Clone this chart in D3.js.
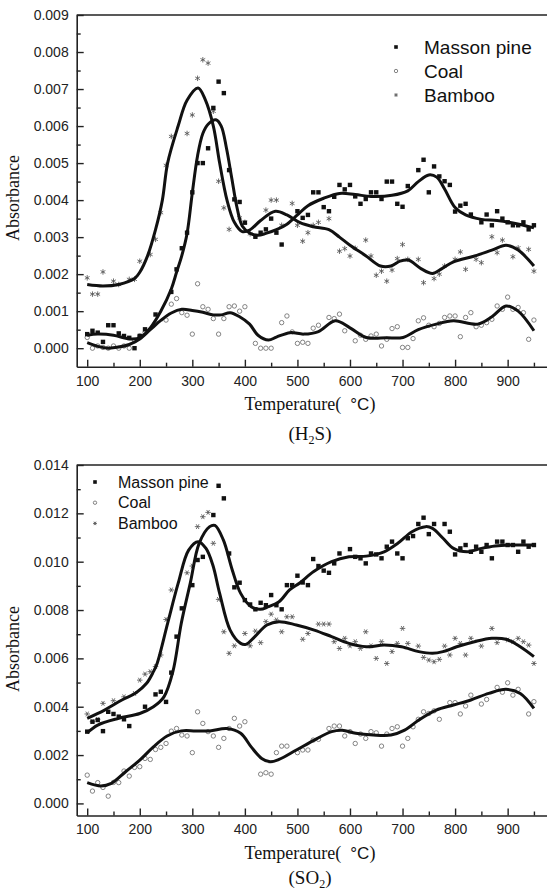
<html>
<head>
<meta charset="utf-8">
<title>Absorbance</title>
<style>
  body { margin: 0; background: #fff; }
  .tick text { font-family: "Liberation Sans", Arial, sans-serif; font-size: 14px; fill: #222; }
  .domain { stroke: #222; stroke-width: 1.6; }
  .tick line { stroke: #222; stroke-width: 1.4; }
</style>
<script src="https://cdn.jsdelivr.net/npm/d3@7/dist/d3.min.js"></script>
</head>
<body>
<script>
// values are absorbance x 10^-3
var seriesNames = ["Masson pine", "Coal", "Bamboo"];
var xTicks = [100, 200, 300, 400, 500, 600, 700, 800, 900];
var h2sTicks = [0, 1, 2, 3, 4, 5, 6, 7, 8, 9];
var so2Ticks = [0, 2, 4, 6, 8, 10, 12, 14];

// H2S measured points [T, A]
var h2sPine = [[100,0.38],[110,0.47],[120,0.42],[130,0.17],[140,0.62],[150,0.62],[160,0.40],[170,0.33],[180,0.28],[190,0.0],[200,0.33],[210,0.51],[230,0.91],[260,1.52],[270,2.13],[280,2.70],[290,3.12],[300,4.21],[310,5.0],[320,5.0],[330,5.40],[340,6.49],[350,7.20],[360,6.89],[370,4.81],[380,4.02],[390,3.95],[400,3.39],[420,3.01],[430,3.12],[440,3.21],[450,3.5],[460,3.12],[470,2.8],[500,3.7],[510,3.52],[520,3.6],[530,4.21],[540,4.21],[550,3.81],[560,3.7],[570,4.09],[580,4.41],[590,4.29],[600,4.41],[610,4.1],[620,3.9],[630,4.03],[640,4.21],[650,4.21],[660,4.03],[670,4.5],[680,4.5],[690,3.9],[700,3.82],[710,4.38],[730,4.81],[740,5.09],[750,4.21],[760,4.91],[770,4.64],[780,4.51],[790,4.41],[800,3.69],[810,3.85],[820,3.9],[830,3.61],[850,3.4],[860,3.61],[870,3.32],[880,3.7],[890,3.5],[900,3.4],[910,3.32],[920,3.32],[930,3.4],[940,3.21],[950,3.32]];
var h2sCoal = [[100,0.29],[110,0.0],[120,0.06],[130,0.02],[140,0.0],[150,0.06],[160,0.0],[170,0.06],[180,0.0],[190,0.2],[200,0.33],[210,0.42],[230,0.69],[250,0.76],[260,1.19],[270,1.34],[280,0.96],[290,0.89],[300,0.38],[310,1.74],[320,1.12],[330,1.05],[340,0.8],[350,0.38],[360,0.8],[370,1.12],[380,1.14],[390,1.0],[400,1.12],[420,0.13],[430,0.0],[440,0.0],[450,0.0],[470,0.69],[480,0.87],[490,0.44],[500,0.13],[510,0.16],[520,0.13],[530,0.54],[540,0.62],[560,0.83],[570,0.8],[580,0.92],[590,0.47],[610,0.2],[620,0.35],[630,0.24],[640,0.33],[650,0.38],[660,0.06],[670,0.24],[680,0.53],[690,0.58],[700,0.02],[710,0.02],[720,0.26],[730,0.74],[740,0.82],[750,0.62],[760,0.58],[770,0.67],[780,0.83],[790,0.87],[800,0.87],[810,0.31],[820,0.83],[830,0.96],[840,0.58],[850,0.62],[860,0.69],[870,0.78],[880,1.14],[890,1.05],[900,1.38],[910,1.05],[920,1.1],[930,0.96],[940,0.24],[950,0.76]];
var h2sBamboo = [[100,1.9],[110,1.46],[120,1.46],[130,2.06],[150,1.81],[160,1.72],[180,1.86],[190,1.86],[200,2.35],[220,2.53],[230,2.94],[240,3.66],[250,4.94],[260,5.72],[290,5.80],[300,6.30],[310,7.29],[320,7.79],[330,7.70],[340,6.40],[350,4.51],[360,3.79],[370,3.21],[390,3.52],[400,3.4],[410,3.09],[440,3.73],[450,4.0],[460,4.0],[470,3.32],[490,3.91],[500,3.32],[510,2.89],[520,3.12],[530,3.32],[540,3.4],[560,3.5],[580,2.62],[590,2.69],[600,2.49],[610,2.7],[630,2.92],[640,2.49],[650,1.97],[660,2.08],[670,1.81],[680,2.11],[690,2.42],[700,2.8],[710,2.4],[730,2.4],[740,1.77],[760,1.88],[770,2.0],[780,2.22],[800,2.4],[810,2.6],[820,2.13],[840,2.4],[850,2.31],[870,3.01],[880,2.58],[890,2.92],[910,2.47],[920,2.71],[940,2.67],[950,2.08]];

// H2S smoothed curves
var h2sPineFit = [[100,0.35],[120,0.38],[150,0.35],[180,0.25],[200,0.28],[220,0.55],[240,1.0],[260,1.6],[270,2.05],[280,2.5],[290,3.1],[300,4.2],[310,5.2],[320,5.8],[330,6.05],[345,6.17],[355,6.0],[365,5.4],[375,4.6],[385,3.8],[395,3.3],[410,3.1],[425,3.05],[440,3.1],[460,3.2],[480,3.35],[500,3.6],[520,3.85],[550,4.05],[580,4.18],[610,4.15],[640,4.1],[680,4.13],[710,4.25],[730,4.5],[750,4.68],[765,4.62],[780,4.3],[800,3.8],[820,3.6],[850,3.48],[880,3.45],[910,3.38],[950,3.25]];
var h2sCoalFit = [[100,0.15],[120,0.05],[140,0.0],[160,0.03],[180,0.1],[200,0.25],[220,0.5],[240,0.75],[260,0.95],[280,1.05],[300,1.02],[320,0.97],[340,0.9],[355,0.9],[372,0.96],[390,0.85],[409,0.65],[425,0.35],[445,0.22],[460,0.3],[486,0.42],[512,0.38],[540,0.45],[572,0.74],[600,0.55],[631,0.29],[670,0.28],[701,0.29],[730,0.5],[764,0.65],[797,0.74],[843,0.65],[870,0.85],[897,1.14],[920,1.0],[950,0.47]];
var h2sBambooFit = [[100,1.72],[130,1.68],[160,1.72],[190,1.88],[200,2.05],[215,2.5],[230,3.2],[243,4.0],[253,5.0],[273,6.0],[290,6.7],[311,7.03],[325,6.7],[340,6.0],[352,5.0],[366,4.0],[380,3.4],[395,3.15],[410,3.2],[430,3.45],[458,3.7],[480,3.6],[505,3.39],[530,3.28],[560,3.2],[580,3.0],[600,2.78],[630,2.5],[658,2.22],[678,2.22],[695,2.35],[711,2.38],[735,2.15],[757,2.02],[775,2.15],[797,2.33],[837,2.49],[870,2.65],[897,2.78],[920,2.65],[950,2.22]];

// SO2 measured points
var so2Pine = [[100,2.97],[110,3.38],[120,3.45],[130,2.99],[140,3.79],[150,3.7],[160,3.59],[170,3.48],[180,3.2],[210,4.0],[230,4.51],[240,4.62],[250,4.2],[260,5.41],[270,6.9],[280,8.07],[300,9.03],[310,10.07],[320,10.2],[340,11.93],[350,13.14],[360,12.62],[370,10.34],[380,8.94],[390,9.13],[400,8.41],[410,8.23],[420,8.03],[430,8.3],[440,8.2],[450,8.62],[460,8.2],[470,8.03],[480,9.03],[490,9.03],[500,9.42],[510,9.14],[520,9.03],[530,10.11],[540,9.82],[550,9.63],[560,9.54],[570,9.93],[580,10.34],[600,10.52],[610,10.2],[620,10.14],[630,9.93],[640,10.34],[650,10.3],[660,10.14],[670,10.62],[680,10.83],[690,10.34],[700,10.14],[710,10.97],[720,11.06],[730,11.56],[740,11.82],[750,11.14],[760,11.56],[780,11.56],[790,11.24],[800,10.3],[810,10.55],[820,10.69],[830,10.41],[840,10.62],[850,10.41],[860,10.69],[870,10.14],[880,10.83],[890,10.83],[900,10.69],[910,10.69],[920,10.41],[930,10.83],[940,10.62],[950,10.69]];
var so2Coal = [[100,1.17],[110,0.51],[120,0.86],[130,0.66],[140,0.3],[150,0.87],[160,0.86],[170,1.34],[180,1.13],[190,1.49],[200,1.52],[210,1.86],[220,1.82],[230,2.23],[240,2.32],[250,2.48],[260,2.99],[270,3.1],[280,2.83],[290,2.79],[300,2.1],[310,3.79],[320,3.31],[330,2.97],[340,2.79],[350,2.32],[360,2.69],[370,3.1],[380,3.52],[390,3.2],[400,3.38],[430,1.21],[440,1.27],[450,1.21],[460,2.1],[470,2.37],[480,2.37],[500,2.1],[510,2.21],[520,2.21],[530,2.62],[540,2.65],[560,3.1],[570,3.2],[580,3.2],[590,2.79],[600,2.97],[610,2.48],[620,2.87],[630,2.69],[640,2.97],[650,2.92],[660,2.37],[670,2.87],[680,3.1],[690,3.17],[700,2.37],[710,2.69],[720,3.17],[730,3.48],[740,3.79],[750,3.72],[760,3.83],[770,3.48],[790,4.17],[800,4.17],[810,3.7],[820,4.03],[830,4.48],[850,4.11],[860,4.3],[880,4.8],[890,4.6],[900,4.99],[910,4.48],[920,4.72],[940,3.7],[950,4.21]];
var so2Bamboo = [[100,3.7],[110,3.38],[120,3.48],[130,4.14],[150,4.25],[170,4.41],[190,4.55],[200,5.1],[210,5.35],[220,5.45],[230,5.66],[240,6.14],[250,7.61],[260,8.83],[290,9.54],[300,9.82],[310,11.45],[320,11.86],[330,12.04],[340,10.76],[350,8.44],[360,7.1],[370,6.21],[380,6.52],[400,7.03],[410,6.52],[420,7.13],[430,6.65],[440,7.52],[450,7.83],[460,7.59],[470,7.1],[480,7.72],[490,7.72],[510,6.79],[520,7.03],[540,7.42],[550,7.42],[560,7.42],[570,6.69],[580,6.41],[590,6.83],[600,6.52],[610,6.69],[620,6.41],[630,7.1],[640,6.52],[650,6.0],[660,6.69],[670,5.79],[680,6.28],[690,6.62],[700,7.24],[710,6.62],[730,6.51],[740,6.04],[750,5.93],[760,5.86],[770,5.96],[780,6.51],[790,6.14],[800,6.83],[810,6.62],[820,6.14],[830,6.83],[850,6.51],[870,7.24],[880,6.65],[900,6.76],[910,6.69],[920,6.83],[930,6.69],[940,6.55],[950,5.79]];

// SO2 smoothed curves
var so2PineFit = [[100,2.92],[120,3.24],[160,3.52],[200,3.72],[226,4.0],[246,4.41],[263,5.45],[279,7.45],[296,9.1],[313,10.76],[333,11.45],[343,11.5],[359,10.9],[376,9.66],[392,8.69],[412,8.14],[429,8.03],[445,8.14],[465,8.34],[485,8.83],[505,9.13],[531,9.59],[565,10.0],[598,10.2],[631,10.23],[665,10.41],[691,10.76],[718,11.24],[744,11.45],[757,11.38],[777,10.97],[797,10.55],[823,10.41],[850,10.55],[876,10.65],[903,10.69],[950,10.69]];
var so2CoalFit = [[100,0.86],[126,0.72],[146,0.83],[173,1.31],[200,1.79],[226,2.34],[252,2.79],[279,3.0],[306,3.0],[333,3.0],[366,3.1],[392,2.9],[412,2.34],[432,1.86],[448,1.72],[465,1.82],[498,2.21],[532,2.62],[565,2.97],[585,3.03],[611,2.9],[644,2.83],[678,2.83],[704,3.03],[731,3.45],[764,3.86],[797,4.07],[830,4.28],[864,4.55],[897,4.72],[924,4.55],[950,3.93]];
var so2BambooFit = [[100,3.52],[133,3.86],[166,4.28],[193,4.58],[213,4.97],[226,5.45],[233,5.79],[253,7.45],[273,9.1],[293,10.48],[311,10.83],[326,10.55],[339,9.86],[352,8.69],[372,7.17],[392,6.62],[402,6.58],[419,6.9],[442,7.38],[465,7.52],[498,7.38],[532,7.17],[565,6.9],[598,6.62],[631,6.48],[665,6.55],[698,6.48],[731,6.28],[757,6.21],[777,6.28],[803,6.48],[837,6.69],[870,6.83],[897,6.79],[924,6.48],[950,6.07]];

var svg = d3.select("body").append("svg")
    .attr("width", 547)
    .attr("height", 891);

var fmt = function (v) { return (v / 1000).toFixed(3); };

// marker drawers
function drawSquare(g, x, y, s) {
    g.append("rect").attr("x", x - s / 2).attr("y", y - s / 2)
        .attr("width", s).attr("height", s).attr("fill", "#111");
}
function drawCircle(g, x, y, s) {
    g.append("circle").attr("cx", x).attr("cy", y).attr("r", s / 2)
        .attr("fill", "none").attr("stroke", "#666").attr("stroke-width", 0.8);
}
function drawStar(g, x, y, s, rot) {
    var r = s / 2, p = "";
    for (var k = 0; k < 3; k++) {
        var a = (rot + k * 60) * Math.PI / 180;
        p += "M" + (x - r * Math.sin(a)) + "," + (y - r * Math.cos(a)) +
             "L" + (x + r * Math.sin(a)) + "," + (y + r * Math.cos(a));
    }
    g.append("path").attr("d", p).attr("stroke", "#555").attr("stroke-width", 0.85).attr("fill", "none");
}

function panel(opt) {
    var x = d3.scaleLinear().domain([80, 1000]).range([76.7, 560.2]);
    var y = d3.scaleLinear().domain(opt.yDomain).range([opt.bottom, opt.top]);
    var g = svg.append("g");

    // top frame line
    g.append("line").attr("x1", 76.7).attr("x2", 547).attr("y1", opt.top).attr("y2", opt.top)
        .attr("stroke", "#222").attr("stroke-width", 1.6);

    // minor ticks
    g.append("g").attr("transform", "translate(0," + opt.bottom + ")")
        .call(d3.axisBottom(x).tickValues(xTicks.map(function (d) { return d + 50; }))
            .tickSize(-4).tickFormat(""))
        .select(".domain").remove();
    g.append("g").attr("transform", "translate(76.7,0)")
        .call(d3.axisLeft(y).tickValues(opt.yTicks.slice(0, -1).map(function (d, i) { return (d + opt.yTicks[i + 1]) / 2; }))
            .tickSize(-4).tickFormat(""))
        .select(".domain").remove();

    g.append("g").attr("transform", "translate(0," + opt.bottom + ")")
        .call(d3.axisBottom(x).tickValues(xTicks).tickSizeInner(-7).tickSizeOuter(0).tickPadding(9));
    g.append("g").attr("transform", "translate(76.7,0)")
        .call(d3.axisLeft(y).tickValues(opt.yTicks).tickFormat(fmt).tickSizeInner(-7).tickSizeOuter(0).tickPadding(8));

    var line = d3.line()
        .x(function (d) { return x(d[0]); })
        .y(function (d) { return y(d[1]); })
        .curve(d3.curveCatmullRom.alpha(0.5));

    var pts = g.append("g");
    opt.coal.forEach(function (d) { drawCircle(pts, x(d[0]), y(d[1]), 4.4); });
    opt.bamboo.forEach(function (d) { drawStar(pts, x(d[0]), y(d[1]), 5.5, opt.starRot); });
    opt.pine.forEach(function (d) { drawSquare(pts, x(d[0]), y(d[1]), 4.4); });

    [opt.pineFit, opt.coalFit, opt.bambooFit].forEach(function (f) {
        g.append("path").attr("d", line(f)).attr("fill", "none")
            .attr("stroke", "#111").attr("stroke-width", 3).attr("stroke-linejoin", "round");
    });

    // legend
    var L = opt.legend;
    seriesNames.forEach(function (name, i) {
        var cy = L.y + i * L.dy;
        if (i === 0) drawSquare(g, L.mx, cy, 3.6);
        if (i === 1) drawCircle(g, L.mx, cy, 3.4);
        if (i === 2) drawStar(g, L.mx, cy, 4, opt.starRot);
        g.append("text").attr("x", L.tx).attr("y", cy + L.fs * 0.36)
            .attr("font-family", "Liberation Sans, Arial, sans-serif")
            .attr("font-size", L.fs).attr("fill", "#111").text(name);
    });

    // axis titles
    g.append("text")
        .attr("transform", "translate(19," + opt.yTitle + ") rotate(-90)")
        .attr("text-anchor", "middle")
        .attr("font-family", "Liberation Serif, Times New Roman, serif")
        .attr("font-size", 18).attr("fill", "#111").text("Absorbance");

    var t = g.append("text").attr("x", 310).attr("y", opt.xTitle)
        .attr("text-anchor", "middle")
        .attr("font-family", "Liberation Serif, Times New Roman, serif")
        .attr("font-size", 18).attr("fill", "#111");
    t.append("tspan").text("Temperature(");
    t.append("tspan").attr("dx", 9).attr("font-family", "Liberation Sans, Arial, sans-serif")
        .attr("font-size", 17).text("°C");
    t.append("tspan").text(")");

    // caption with subscript: gas = [before, sub, after]
    var c = g.append("text").attr("x", 310).attr("y", opt.caption)
        .attr("text-anchor", "middle")
        .attr("font-family", "Liberation Serif, Times New Roman, serif")
        .attr("font-size", 19).attr("fill", "#111");
    c.append("tspan").text("(" + opt.gas[0]);
    c.append("tspan").attr("font-size", 12).attr("dy", 4).text(opt.gas[1]);
    c.append("tspan").attr("dy", -4).text(opt.gas[2] + ")");
}

panel({
    yDomain: [-0.5, 9], yTicks: h2sTicks, top: 15, bottom: 366.7,
    pine: h2sPine, coal: h2sCoal, bamboo: h2sBamboo,
    pineFit: h2sPineFit, coalFit: h2sCoalFit, bambooFit: h2sBambooFit,
    starRot: 0,
    legend: { mx: 396, tx: 424, y: 47, dy: 24, fs: 19 },
    yTitle: 198, xTitle: 410, caption: 440, gas: ["H", "2", "S"]
});

panel({
    yDomain: [-0.5, 14], yTicks: so2Ticks, top: 465, bottom: 815.5,
    pine: so2Pine, coal: so2Coal, bamboo: so2Bamboo,
    pineFit: so2PineFit, coalFit: so2CoalFit, bambooFit: so2BambooFit,
    starRot: 90,
    legend: { mx: 95, tx: 118, y: 482, dy: 20.7, fs: 16 },
    yTitle: 649, xTitle: 859, caption: 884, gas: ["SO", "2", ""]
});
</script>
</body>
</html>
